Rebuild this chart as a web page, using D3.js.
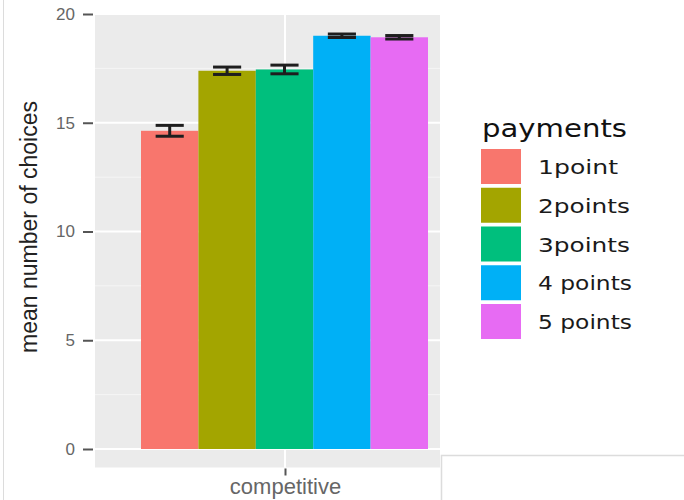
<!DOCTYPE html>
<html>
<head>
<meta charset="utf-8">
<script src="https://cdn.jsdelivr.net/npm/d3@7"></script>
<style>
  html, body { margin: 0; padding: 0; background: #fff; }
  svg { display: block; }
</style>
</head>
<body>
<svg id="chart" width="684" height="500"></svg>
<script>
const categories = ["competitive"];
const payments = ["1point", "2points", "3points", "4 points", "5 points"];
const means = [14.63, 17.39, 17.45, 19.0, 18.93];
const errors = [0.25, 0.17, 0.2, 0.08, 0.08];
const colors = ["#F8766D", "#A3A500", "#00BF7D", "#00B0F6", "#E76BF3"];
const yTicks = [0, 5, 10, 15, 20];
const yMinor = [2.5, 7.5, 12.5, 17.5];

const svg = d3.select("#chart");

// frame lines of the screenshot
svg.append("line").attr("x1", 3.5).attr("x2", 3.5).attr("y1", 0).attr("y2", 500)
  .attr("stroke", "#dcdcdc").attr("stroke-width", 1);

const panel = { left: 95, right: 440 };
const y = d3.scaleLinear().domain([0, 20]).range([449, 14]);
const x = d3.scaleBand().domain(categories).range([141, 428]).padding(0);
const xInner = d3.scaleBand().domain(payments).range([0, x.bandwidth()]).padding(0);
const color = d3.scaleOrdinal().domain(payments).range(colors);

const pTop = y(20.03), pBot = y(-0.85);
svg.append("rect").attr("x", panel.left).attr("y", pTop)
  .attr("width", panel.right - panel.left).attr("height", pBot - pTop)
  .attr("fill", "#EBEBEB");

// minor grid
svg.append("g").selectAll("line").data(yMinor).join("line")
  .attr("x1", panel.left).attr("x2", panel.right)
  .attr("y1", d => y(d)).attr("y2", d => y(d))
  .attr("stroke", "#F5F5F5").attr("stroke-width", 1);
// major grid
svg.append("g").selectAll("line").data(yTicks).join("line")
  .attr("x1", panel.left).attr("x2", panel.right)
  .attr("y1", d => y(d)).attr("y2", d => y(d))
  .attr("stroke", "#FFFFFF").attr("stroke-width", 2);
const xc = 285;
svg.append("line").attr("x1", xc).attr("x2", xc).attr("y1", pTop).attr("y2", pBot)
  .attr("stroke", "#FFFFFF").attr("stroke-width", 2);

// bars
const data = payments.map((p, i) => ({ cat: categories[0], p, m: means[i], e: errors[i] }));
const g = svg.append("g");
g.selectAll("rect.bar").data(data).join("rect").attr("class", "bar")
  .attr("x", d => x(d.cat) + xInner(d.p))
  .attr("width", xInner.bandwidth())
  .attr("y", d => y(d.m))
  .attr("height", d => y(0) - y(d.m))
  .attr("fill", d => color(d.p));

// error bars
const eb = g.selectAll("g.err").data(data).join("g").attr("class", "err");
const cx = d => x(d.cat) + xInner(d.p) + xInner.bandwidth() / 2;
const hw = xInner.bandwidth() * 0.245;
const ebColor = "#1e1e1e", ebW = 3;
eb.append("line").attr("x1", cx).attr("x2", cx)
  .attr("y1", d => y(d.m + d.e)).attr("y2", d => y(d.m - d.e))
  .attr("stroke", ebColor).attr("stroke-width", ebW);
eb.append("line").attr("x1", d => cx(d) - hw).attr("x2", d => cx(d) + hw)
  .attr("y1", d => y(d.m + d.e)).attr("y2", d => y(d.m + d.e))
  .attr("stroke", ebColor).attr("stroke-width", ebW);
eb.append("line").attr("x1", d => cx(d) - hw).attr("x2", d => cx(d) + hw)
  .attr("y1", d => y(d.m - d.e)).attr("y2", d => y(d.m - d.e))
  .attr("stroke", ebColor).attr("stroke-width", ebW);

// y axis
const yAxis = d3.axisLeft(y).tickValues(yTicks).tickSize(10).tickPadding(8);
const ya = svg.append("g").attr("transform", `translate(${panel.left - 2},0)`).call(yAxis);
ya.select(".domain").remove();
ya.selectAll(".tick line").attr("stroke", "#555").attr("stroke-width", 2);
ya.selectAll(".tick text").attr("fill", "#666")
  .attr("font-family", "Liberation Sans, Arial, sans-serif").attr("font-size", 17);

// x axis
const xAxis = d3.axisBottom(d3.scaleOrdinal().domain(categories).range([xc])).tickSize(7).tickPadding(6);
const xa = svg.append("g").attr("transform", `translate(0,${pBot + 1})`).call(xAxis);
xa.select(".domain").remove();
xa.selectAll(".tick line").attr("stroke", "#555").attr("stroke-width", 2);
xa.selectAll(".tick text").attr("fill", "#666")
  .attr("font-family", "Liberation Sans, Arial, sans-serif").attr("font-size", 22)
  .attr("dy", "0.55em");

// y title
svg.append("text").attr("transform", "translate(37,227) rotate(-90)")
  .attr("text-anchor", "middle").attr("fill", "#222")
  .attr("font-family", "Liberation Sans, Arial, sans-serif").attr("font-size", 23)
  .text("mean number of choices");

// legend
const lg = svg.append("g");
lg.append("text").attr("x", 482).attr("y", 137)
  .attr("font-family", "DejaVu Sans, sans-serif").attr("font-size", 25)
  .attr("fill", "#111")
  .attr("textLength", 145).attr("lengthAdjust", "spacingAndGlyphs")
  .text("payments");
const step = 38.75;
const items = lg.selectAll("g.item").data(payments).join("g").attr("class", "item")
  .attr("transform", (d, i) => `translate(481,${149 + i * step})`);
items.append("rect").attr("width", 40).attr("height", 35).attr("fill", d => color(d));
const lw = [80, 92, 92, 94, 94];
items.append("text").attr("x", 57).attr("y", 25)
  .attr("font-family", "DejaVu Sans, sans-serif").attr("font-size", 20)
  .attr("fill", "#1a1a1a")
  .attr("textLength", (d, i) => lw[i]).attr("lengthAdjust", "spacingAndGlyphs")
  .text(d => d);

// bottom-right frame
svg.append("path").attr("d", "M441.5,500 V455.5 H684")
  .attr("fill", "none").attr("stroke", "#dcdcdc").attr("stroke-width", 1.5);
</script>
</body>
</html>
